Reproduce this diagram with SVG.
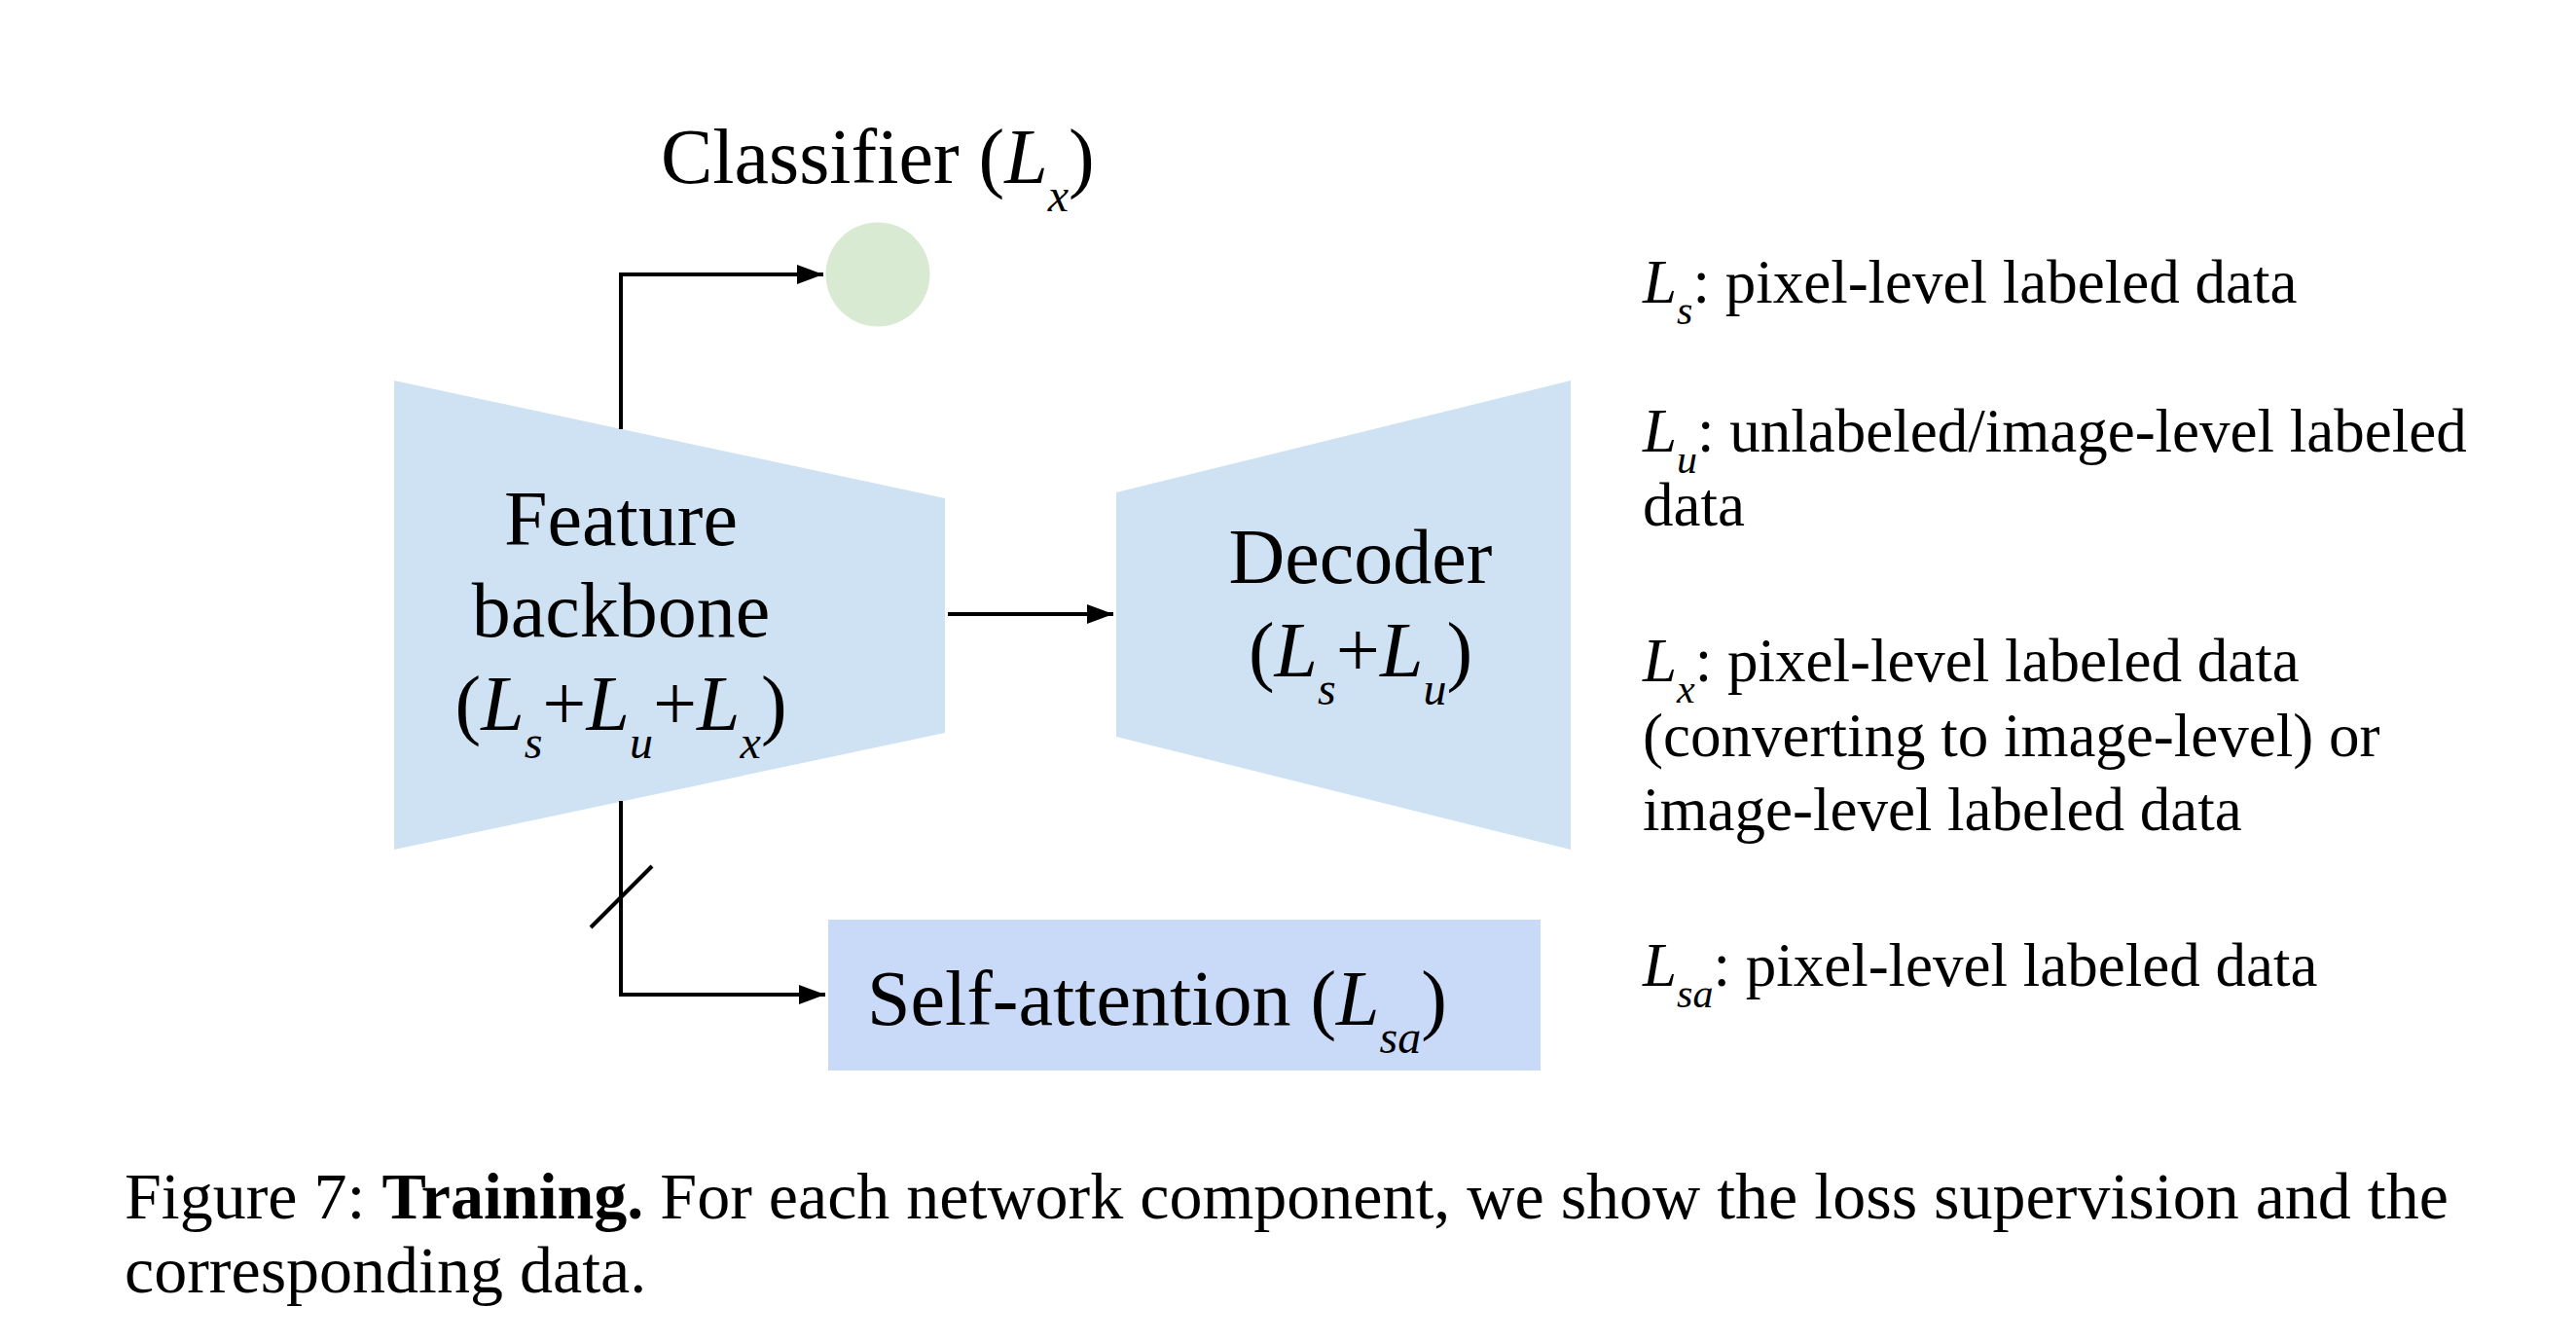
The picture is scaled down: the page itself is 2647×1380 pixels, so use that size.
<svg xmlns="http://www.w3.org/2000/svg" width="2647" height="1380" viewBox="0 0 2647 1380">
<style>
text{font-family:"Liberation Serif","Times New Roman",serif;fill:#000}
.n{font-size:80px}
.lg{font-size:63px}
.cap{font-size:68px}
.i{font-style:italic}
.conn{fill:none;stroke:#000;stroke-width:4}
</style>
<defs>
<marker id="ah" viewBox="0 0 27 20" refX="27" refY="10" markerWidth="27" markerHeight="20" markerUnits="userSpaceOnUse" orient="auto">
<path d="M0,0 L27,10 L0,20 Z" fill="#000"/>
</marker>
</defs>
<rect width="2647" height="1380" fill="#fff"/>
<g id="backbone">
<polygon points="405,391 971,512 971,753 405,873" fill="#cfe2f3"/>
<text class="n" x="638" y="560" text-anchor="middle">Feature</text>
<text class="n" x="638" y="654" text-anchor="middle">backbone</text>
<text class="n" x="638" y="750" text-anchor="middle">(<tspan class="i">L</tspan><tspan class="i" font-size="48" dy="29">s</tspan><tspan dy="-29">+</tspan><tspan class="i">L</tspan><tspan class="i" font-size="48" dy="29">u</tspan><tspan dy="-29">+</tspan><tspan class="i">L</tspan><tspan class="i" font-size="48" dy="29">x</tspan><tspan dy="-29">)</tspan></text>
</g>
<g id="decoder">
<polygon points="1147,506 1614,391 1614,873 1147,757" fill="#cfe2f3"/>
<text class="n" x="1398" y="599" text-anchor="middle">Decoder</text>
<text class="n" x="1398" y="695" text-anchor="middle">(<tspan class="i">L</tspan><tspan class="i" font-size="48" dy="29">s</tspan><tspan dy="-29">+</tspan><tspan class="i">L</tspan><tspan class="i" font-size="48" dy="29">u</tspan><tspan dy="-29">)</tspan></text>
</g>
<g id="classifier">
<circle cx="902" cy="282" r="53.5" fill="#d9ead3"/>
<text class="n" x="679" y="188">Classifier (<tspan class="i">L</tspan><tspan class="i" font-size="48" dy="29">x</tspan><tspan dy="-29">)</tspan></text>
</g>
<g id="self-attention">
<rect x="851" y="945" width="732" height="155" fill="#c9daf8"/>
<text class="n" x="891" y="1053">Self-attention (<tspan class="i">L</tspan><tspan class="i" font-size="48" dy="29">sa</tspan><tspan dy="-29">)</tspan></text>
</g>
<g id="connectors">
<path class="conn" d="M638,441 V282 H846" marker-end="url(#ah)"/>
<path class="conn" d="M974,631 H1144" marker-end="url(#ah)"/>
<path class="conn" d="M638,823 V1022 H848" marker-end="url(#ah)"/>
<line class="conn" x1="607" y1="953" x2="670" y2="890" stroke-width="3.5"/>
</g>
<g id="legend">
<text class="lg" x="1688" y="311"><tspan class="i">L</tspan><tspan class="i" font-size="42" dy="22">s</tspan><tspan dy="-22">: pixel-level labeled data</tspan></text>
<text class="lg" x="1688" y="464"><tspan class="i">L</tspan><tspan class="i" font-size="42" dy="22">u</tspan><tspan dy="-22">: unlabeled/image-level labeled</tspan></text>
<text class="lg" x="1688" y="540">data</text>
<text class="lg" x="1688" y="700"><tspan class="i">L</tspan><tspan class="i" font-size="42" dy="22">x</tspan><tspan dy="-22">: pixel-level labeled data</tspan></text>
<text class="lg" x="1688" y="777">(converting to image-level) or</text>
<text class="lg" x="1688" y="853">image-level labeled data</text>
<text class="lg" x="1688" y="1013"><tspan class="i">L</tspan><tspan class="i" font-size="42" dy="22">sa</tspan><tspan dy="-22">: pixel-level labeled data</tspan></text>
</g>
<g id="caption">
<text class="cap" x="128" y="1252">Figure 7: <tspan font-weight="bold">Training.</tspan> For each network component, we show the loss supervision and the</text>
<text class="cap" x="128" y="1328">corresponding data.</text>
</g>
</svg>
